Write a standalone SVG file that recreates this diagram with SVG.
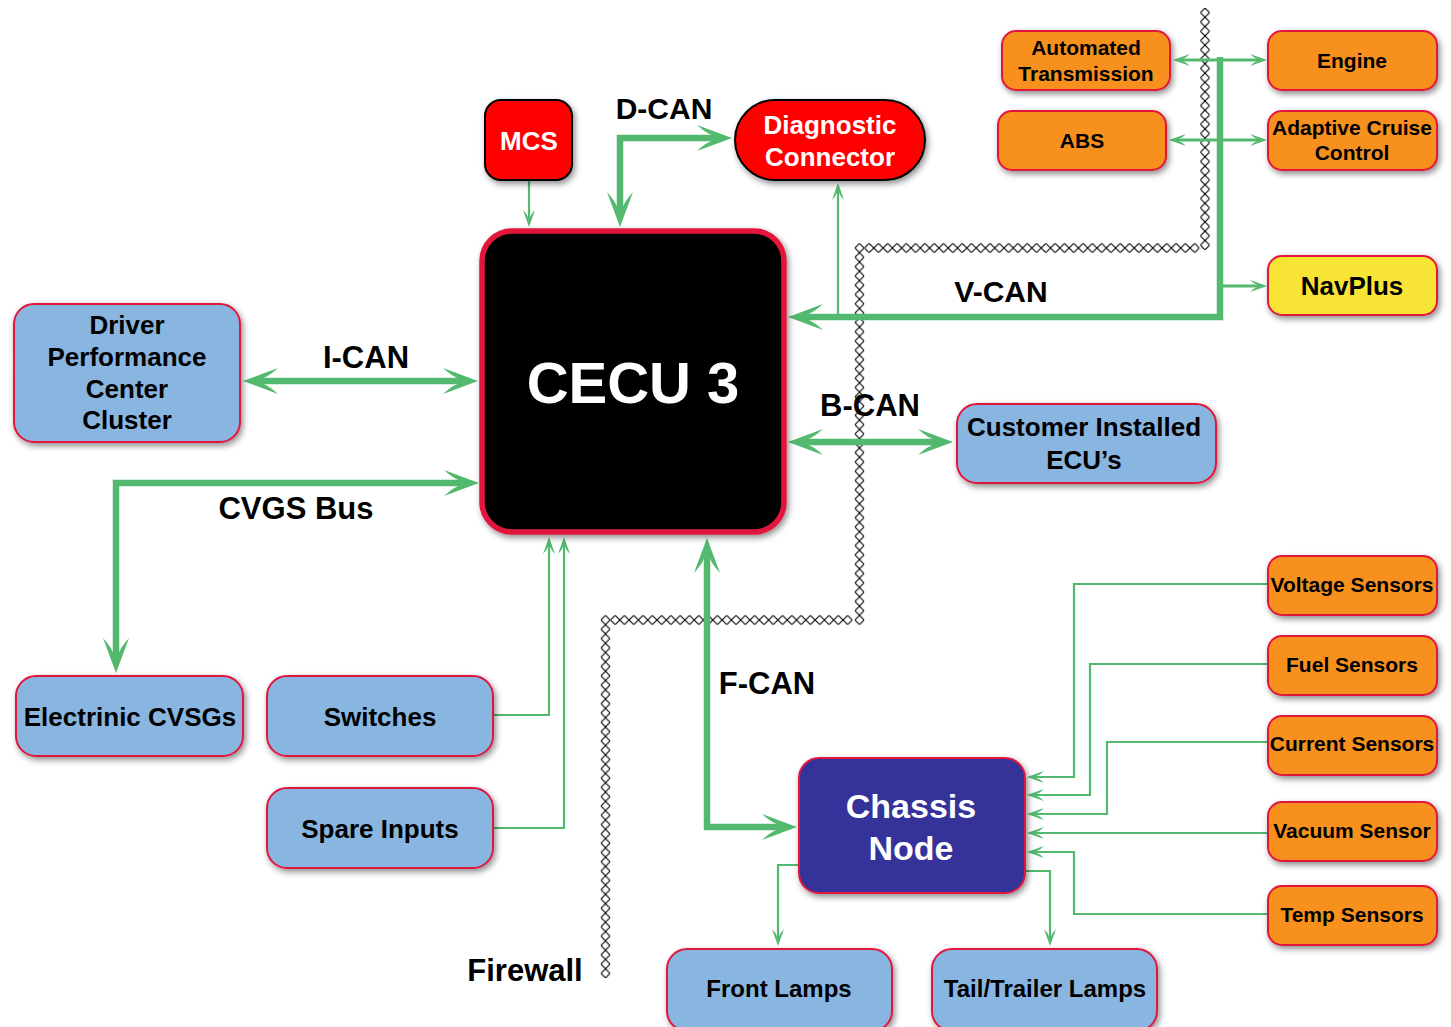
<svg xmlns="http://www.w3.org/2000/svg" width="1451" height="1027" viewBox="0 0 1451 1027">
<defs>
<style>
.t{font-family:"Liberation Sans",Arial,sans-serif;font-weight:bold;text-anchor:middle;fill:#000}
.w{fill:#fff}
.lbl{font-size:31px}
.blue{fill:#89B5E1;stroke:#E2183D;stroke-width:2}
.orange{fill:#F7901E;stroke:#E2183D;stroke-width:2}
.thick{fill:none;stroke:#52B96E;stroke-width:6.5;stroke-linejoin:miter}
.thin{fill:none;stroke:#52B96E;stroke-width:2.2}
.med{fill:none;stroke:#52B96E;stroke-width:3.2}
.fw{fill:url(#fw)}
</style>
<filter id="sh" x="-20%" y="-20%" width="140%" height="140%">
<feDropShadow dx="2" dy="3" stdDeviation="3" flood-color="#000" flood-opacity="0.45"/>
</filter>
<pattern id="fw" width="9.3" height="9.3" patternUnits="userSpaceOnUse">
<path d="M4.65,0 L9.3,4.65 L4.65,9.3 L0,4.65 Z" fill="#fff" stroke="#000" stroke-width="1"/>
</pattern>
<marker id="big" markerUnits="userSpaceOnUse" orient="auto-start-reverse" refX="0" refY="0" markerWidth="40" markerHeight="30" overflow="visible">
<path d="M20,0 L-15,-13 Q-6,-5 -1,-3.3 L-1,3.3 Q-6,5 -15,13 Z" fill="#52B96E"/>
</marker>
<marker id="sm" markerUnits="userSpaceOnUse" orient="auto-start-reverse" refX="0" refY="0" markerWidth="20" markerHeight="14" overflow="visible">
<path d="M8,0 L-9,-6 Q-5,-2 -2,-1.2 L-2,1.2 Q-5,2 -9,6 Z" fill="#52B96E"/>
</marker>
</defs>
<rect x="0" y="0" width="1451" height="1027" fill="#fff"/>

<g id="firewall">
<rect class="fw" x="0" y="0" width="9.3" height="241.8" transform="translate(1200.35,8)"/>
<rect class="fw" x="0" y="0" width="334.8" height="9.3" transform="translate(864.5,243.35)"/>
<rect class="fw" x="0" y="0" width="9.3" height="381.3" transform="translate(854.85,243.35)"/>
<rect class="fw" x="0" y="0" width="241.8" height="9.3" transform="translate(610.5,615.35)"/>
<rect class="fw" x="0" y="0" width="9.3" height="362.7" transform="translate(600.85,615.35)"/>
</g>

<g id="connectors">
<path class="thick" d="M620,207 L620,138 L712,138" marker-start="url(#big)" marker-end="url(#big)"/>
<path class="thick" d="M263,381 L458,381" marker-start="url(#big)" marker-end="url(#big)"/>
<path class="thick" d="M116,653 L116,483 L459,483" marker-start="url(#big)" marker-end="url(#big)"/>
<path class="thick" d="M808,442 L933,442" marker-start="url(#big)" marker-end="url(#big)"/>
<path class="thick" d="M707,558 L707,827 L777,827" marker-start="url(#big)" marker-end="url(#big)"/>
<path class="thick" d="M1220,57 L1220,317 L808,317" marker-end="url(#big)"/>
<path class="med" d="M1181,60 L1259,60" marker-start="url(#sm)" marker-end="url(#sm)"/>
<path class="med" d="M1177,140 L1259,140" marker-start="url(#sm)" marker-end="url(#sm)"/>
<path class="med" d="M1220,286 L1259,286" marker-end="url(#sm)"/>
<path class="thin" d="M838,317 L838,191" marker-end="url(#sm)"/>
<path class="thin" d="M529,181 L529,219" marker-end="url(#sm)"/>
<path class="thin" d="M493,715 L549,715 L549,545" marker-end="url(#sm)"/>
<path class="thin" d="M493,828 L564,828 L564,545" marker-end="url(#sm)"/>
<path class="thin" d="M1268,584 L1074,584 L1074,777 L1035,777" marker-end="url(#sm)"/>
<path class="thin" d="M1268,664 L1090,664 L1090,795 L1035,795" marker-end="url(#sm)"/>
<path class="thin" d="M1268,742 L1107,742 L1107,814 L1035,814" marker-end="url(#sm)"/>
<path class="thin" d="M1268,833 L1035,833" marker-end="url(#sm)"/>
<path class="thin" d="M1268,914 L1074,914 L1074,852 L1035,852" marker-end="url(#sm)"/>
<path class="thin" d="M799,865 L778,865 L778,938" marker-end="url(#sm)"/>
<path class="thin" d="M1025,871 L1050,871 L1050,938" marker-end="url(#sm)"/>
</g>

<g id="mcs"><rect x="485" y="100" width="87" height="80" rx="16" fill="#FF0000" stroke="#000" stroke-width="2" filter="url(#sh)"/><text class="t w" x="529" y="150" font-size="26">MCS</text></g>
<g id="diagnostic"><rect x="735" y="100" width="190" height="80" rx="40" fill="#FF0000" stroke="#000" stroke-width="2" filter="url(#sh)"/><text class="t w" x="830" y="134" font-size="26">Diagnostic</text><text class="t w" x="830" y="166" font-size="26">Connector</text></g>
<g id="cecu"><rect x="482" y="231" width="302" height="301" rx="30" fill="#000" stroke="#E2183D" stroke-width="5.5" filter="url(#sh)"/><text class="t w" x="633" y="403" font-size="58">CECU 3</text></g>
<g id="dpcc"><rect class="blue" x="14" y="304" width="226" height="138" rx="20" filter="url(#sh)"/><text class="t" x="127" y="334" font-size="26">Driver</text><text class="t" x="127" y="366" font-size="26">Performance</text><text class="t" x="127" y="398" font-size="26">Center</text><text class="t" x="127" y="429" font-size="26">Cluster</text></g>
<g id="customer"><rect class="blue" x="957" y="404" width="259" height="79" rx="20" filter="url(#sh)"/><text class="t" x="1084" y="436" font-size="26">Customer Installed</text><text class="t" x="1084" y="469" font-size="26">ECU’s</text></g>
<g id="cvsgs"><rect class="blue" x="16" y="676" width="227" height="80" rx="20" filter="url(#sh)"/><text class="t" x="130" y="726" font-size="26">Electrinic CVSGs</text></g>
<g id="switches"><rect class="blue" x="267" y="676" width="226" height="80" rx="20" filter="url(#sh)"/><text class="t" x="380" y="726" font-size="26">Switches</text></g>
<g id="spare"><rect class="blue" x="267" y="788" width="226" height="80" rx="20" filter="url(#sh)"/><text class="t" x="380" y="838" font-size="26">Spare Inputs</text></g>
<g id="chassis"><rect x="799" y="758" width="226" height="135" rx="20" fill="#353399" stroke="#E2183D" stroke-width="2" filter="url(#sh)"/><text class="t w" x="911" y="818" font-size="34">Chassis</text><text class="t w" x="911" y="860" font-size="34">Node</text></g>
<g id="front"><rect class="blue" x="667" y="949" width="225" height="82" rx="20" filter="url(#sh)"/><text class="t" x="779" y="997" font-size="24">Front Lamps</text></g>
<g id="tail"><rect class="blue" x="932" y="949" width="225" height="82" rx="20" filter="url(#sh)"/><text class="t" x="1045" y="997" font-size="24">Tail/Trailer Lamps</text></g>
<g id="autotrans"><rect class="orange" x="1002" y="31" width="168" height="59" rx="14" filter="url(#sh)"/><text class="t" x="1086" y="55" font-size="21">Automated</text><text class="t" x="1086" y="81" font-size="21">Transmission</text></g>
<g id="abs"><rect class="orange" x="998" y="111" width="168" height="59" rx="14" filter="url(#sh)"/><text class="t" x="1082" y="148" font-size="21">ABS</text></g>
<g id="engine"><rect class="orange" x="1268" y="31" width="169" height="59" rx="14" filter="url(#sh)"/><text class="t" x="1352" y="68" font-size="21">Engine</text></g>
<g id="acc"><rect class="orange" x="1268" y="111" width="169" height="59" rx="14" filter="url(#sh)"/><text class="t" x="1352" y="135" font-size="21">Adaptive Cruise</text><text class="t" x="1352" y="160" font-size="21">Control</text></g>
<g id="navplus"><rect x="1268" y="256" width="169" height="59" rx="14" fill="#F8E436" stroke="#E2183D" stroke-width="2" filter="url(#sh)"/><text class="t" x="1352" y="295" font-size="26">NavPlus</text></g>
<g id="voltage"><rect class="orange" x="1268" y="556" width="169" height="59" rx="14" filter="url(#sh)"/><text class="t" x="1352" y="592" font-size="21">Voltage Sensors</text></g>
<g id="fuel"><rect class="orange" x="1268" y="636" width="169" height="59" rx="14" filter="url(#sh)"/><text class="t" x="1352" y="672" font-size="21">Fuel Sensors</text></g>
<g id="current"><rect class="orange" x="1268" y="716" width="169" height="59" rx="14" filter="url(#sh)"/><text class="t" x="1352" y="751" font-size="21">Current Sensors</text></g>
<g id="vacuum"><rect class="orange" x="1268" y="802" width="169" height="59" rx="14" filter="url(#sh)"/><text class="t" x="1352" y="838" font-size="21">Vacuum Sensor</text></g>
<g id="temp"><rect class="orange" x="1268" y="886" width="169" height="59" rx="14" filter="url(#sh)"/><text class="t" x="1352" y="922" font-size="21">Temp Sensors</text></g>

<g id="labels">
<text class="t" x="664" y="119" font-size="30">D-CAN</text>
<text class="t" x="1001" y="302" font-size="30">V-CAN</text>
<text class="t lbl" x="366" y="368">I-CAN</text>
<text class="t lbl" x="870" y="416">B-CAN</text>
<text class="t lbl" x="296" y="519">CVGS Bus</text>
<text class="t lbl" x="767" y="694">F-CAN</text>
<text class="t lbl" x="525" y="981">Firewall</text>
</g>
</svg>
